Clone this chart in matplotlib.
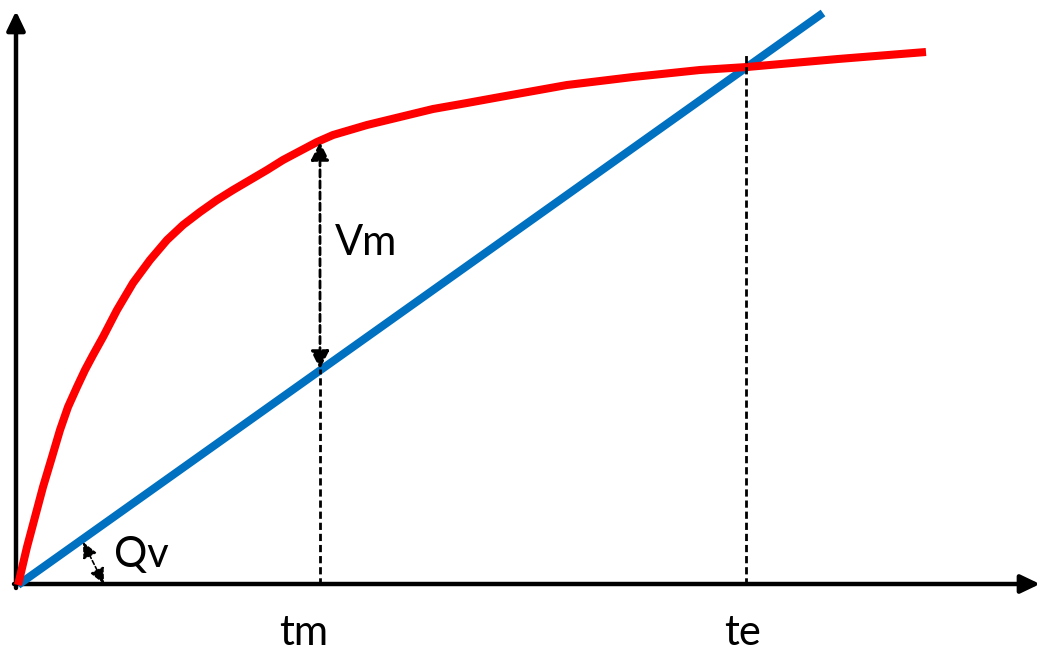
import matplotlib
matplotlib.use("Agg")
import matplotlib.pyplot as plt

# Data (time t, volume V) in chart units
red_t = [0, 9, 17, 25, 34, 42, 50, 59, 67, 75, 85, 99, 115, 132, 149, 165, 182, 199, 215, 232,
         249, 265, 282, 299, 315, 349, 382, 415, 449, 482, 549, 615, 682, 729, 820, 908]
red_v = [0, 38, 68, 98, 128, 155, 178, 198, 215, 230, 248, 275, 302, 325, 345, 360, 373, 385, 395, 405,
         415, 425, 434, 443, 450, 460, 468, 476, 482, 488, 500, 508, 515, 518, 526, 533]
blue_t = [0, 805]
blue_v = [0, 572]
tm = 302
te = 728
vm_top = 443
vm_bottom = 216
te_top = 532
qv_from = (86, 1)
qv_to = (65, 43)

fig = plt.figure(figsize=(10.38, 6.51), dpi=100)
ax = fig.add_axes([0, 0, 1, 1])
ax.set_xlim(-18, 1020)
ax.set_ylim(-66, 585)
ax.axis("off")

font = ["Lato", "DejaVu Sans"]

# axes arrows
ax.annotate("", xy=(-2, 574), xytext=(-2, -3),
            arrowprops=dict(arrowstyle="-|>,head_length=1.15,head_width=0.55", lw=3.2, color="black",
                            shrinkA=0, shrinkB=0), annotation_clip=False)
ax.annotate("", xy=(1022, 1), xytext=(-4, 1),
            arrowprops=dict(arrowstyle="-|>,head_length=1.15,head_width=0.55", lw=3.2, color="black",
                            shrinkA=0, shrinkB=0), annotation_clip=False)

# curves
ax.plot(blue_t, blue_v, color="#0070C0", lw=5.8, solid_capstyle="butt", zorder=3)
ax.plot(red_t, red_v, color="#FF0000", lw=5.8, solid_capstyle="butt", solid_joinstyle="round", zorder=4)

# dashed verticals
ax.plot([te, te], [0, te_top], color="black", lw=2, dashes=(2.6, 1.4), zorder=5)
ax.plot([tm, tm], [0, vm_bottom], color="black", lw=2, dashes=(2.6, 1.4), zorder=5)

# Vm double arrow
ax.annotate("", xy=(tm, vm_top), xytext=(tm, vm_bottom),
            arrowprops=dict(arrowstyle="<|-|>,head_length=1.1,head_width=0.55", lw=2,
                            linestyle=(0, (2.6, 1.4)), color="black", shrinkA=0, shrinkB=0), zorder=6)

# Qv double arrow
ax.annotate("", xy=qv_to, xytext=qv_from,
            arrowprops=dict(arrowstyle="<|-|>,head_length=0.95,head_width=0.45", lw=1.2,
                            linestyle=(0, (2.5, 1.5)), color="black", shrinkA=0, shrinkB=0), zorder=6)

# labels
ax.text(348, 330, "Vm", fontsize=30, family=font, ha="center", va="baseline")
ax.text(123, 18, "Qv", fontsize=30, family=font, ha="center", va="baseline")
ax.text(286, -60, "tm", fontsize=30, family=font, ha="center", va="baseline")
ax.text(725, -60, "te", fontsize=30, family=font, ha="center", va="baseline")

fig.savefig("out.png", dpi=100)
